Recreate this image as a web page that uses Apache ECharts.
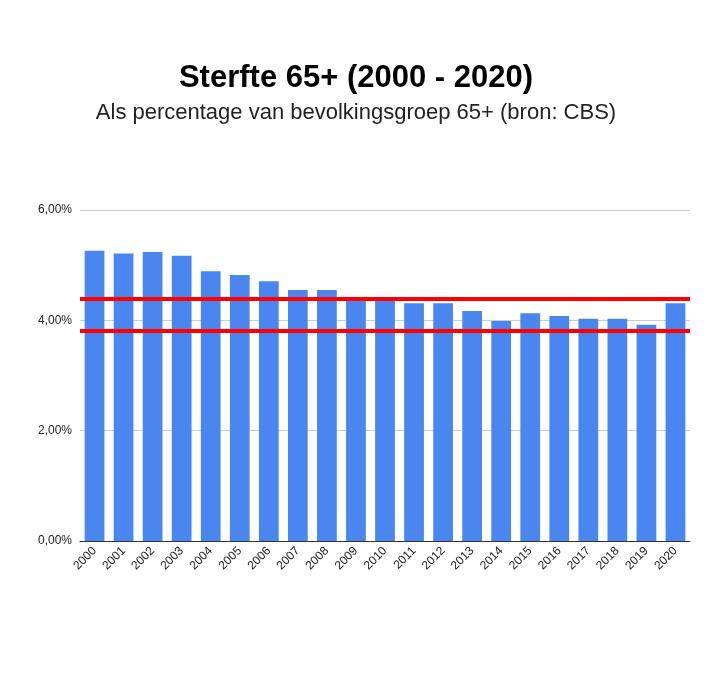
<!DOCTYPE html>
<html><head><meta charset="utf-8">
<script src="https://cdn.jsdelivr.net/npm/echarts@6/dist/echarts.min.js"></script>
<style>html,body{margin:0;padding:0;background:#fff}#c{width:712px;height:677px}</style>
</head><body><div id="c"></div>
<script>
const categories = ['2000','2001','2002','2003','2004','2005','2006','2007','2008','2009','2010','2011','2012','2013','2014','2015','2016','2017','2018','2019','2020'];
const values = [5.26,5.21,5.24,5.17,4.89,4.82,4.71,4.55,4.55,4.40,4.37,4.31,4.31,4.17,3.99,4.13,4.08,4.03,4.03,3.92,4.31];
const refLines = [4.39, 3.81];
const yTicks = [0,2,4,6];
const chart = echarts.init(document.getElementById('c'));
chart.setOption({
  animation:false,
  title:{text:'Sterfte 65+ (2000 - 2020)',subtext:'Als percentage van bevolkingsgroep 65+ (bron: CBS)',left:'center',top:58,
    textStyle:{fontFamily:'Liberation Sans',fontSize:31,fontWeight:'bold',color:'#000'},
    subtextStyle:{fontFamily:'Liberation Sans',fontSize:22,color:'#222'},itemGap:8},
  grid:{left:80,right:22,top:210,bottom:136},
  xAxis:{type:'category',data:categories,axisTick:{show:false},axisLine:{lineStyle:{color:'#333'}},
    axisLabel:{rotate:45,fontFamily:'Liberation Sans',fontSize:12,color:'#222',interval:0}},
  yAxis:{type:'value',min:0,max:6,interval:2,axisLine:{show:false},axisTick:{show:false},
    splitLine:{lineStyle:{color:'#ccc'}},
    axisLabel:{fontFamily:'Liberation Sans',fontSize:12,color:'#222',formatter:v=>v.toFixed(2).replace('.',',')+'%'}},
  series:[{type:'bar',data:values,barWidth:'68%',itemStyle:{color:'#4a86f0'},
    markLine:{symbol:'none',silent:true,label:{show:false},lineStyle:{color:'#ff0000',width:4,type:'solid'},
      data:refLines.map(v=>({yAxis:v}))}}]
});
</script></body></html>
